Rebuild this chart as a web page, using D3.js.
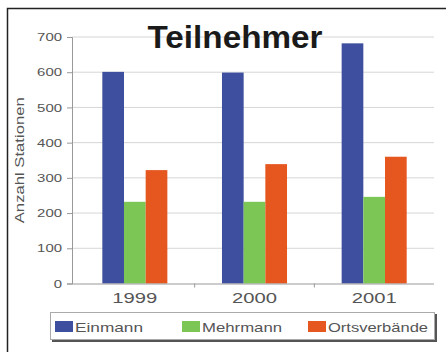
<!DOCTYPE html>
<html>
<head>
<meta charset="utf-8">
<script src="https://cdn.jsdelivr.net/npm/d3@7"></script>
<style>
  html, body { margin: 0; padding: 0; background: #fff; overflow: hidden; }
  svg { display: block; font-family: "Liberation Sans", Arial, sans-serif; }
</style>
</head>
<body>
<svg id="chart" width="446" height="352"></svg>
<script>
// Participants per year, by station type
const years = ["1999", "2000", "2001"];
const seriesNames = ["Einmann", "Mehrmann", "Ortsverbände"];
const einmann = [601, 599, 682];
const mehrmann = [232, 232, 246];
const ortsverbaende = [322, 339, 360];
const seriesColors = ["#3f4f9f", "#7cc656", "#e6561f"];
const yTicks = [0, 100, 200, 300, 400, 500, 600, 700];

const values = [einmann, mehrmann, ortsverbaende];
const rows = years.map((yr, i) => ({
  year: yr,
  bars: seriesNames.map((s, j) => ({ series: s, value: values[j][i], color: seriesColors[j] }))
}));

const svg = d3.select("#chart");

// widen text to a given run length (the chart's typeface is broad)
function stretch(sel, lenFn) {
  sel.each(function (d, i) {
    d3.select(this)
      .attr("textLength", typeof lenFn === "function" ? lenFn(d, i) : lenFn)
      .attr("lengthAdjust", "spacingAndGlyphs");
  });
}

// outer frame: only the top and left edges fall inside the view
svg.append("path")
  .attr("d", "M7.5,352V8.5H446")
  .attr("fill", "none").attr("stroke", "#222").attr("stroke-width", 1.5);

const plot = { left: 72, right: 434, top: 37, bottom: 283.5 };

const y = d3.scaleLinear().domain([0, 700]).range([plot.bottom, plot.top]);
const x0 = d3.scaleBand().domain(years).range([plot.left + 3, plot.right]).padding(0);
const x1 = d3.scaleBand().domain(seriesNames).range([0, x0.bandwidth()])
  .paddingInner(0).paddingOuter(1.26);

// gridlines
svg.append("g")
  .selectAll("line")
  .data(yTicks.filter(d => d > 0))
  .join("line")
  .attr("x1", plot.left).attr("x2", plot.right)
  .attr("y1", d => y(d)).attr("y2", d => y(d))
  .attr("stroke", "#d6d6d6").attr("stroke-width", 1);

// bars
const groups = svg.append("g")
  .selectAll("g")
  .data(rows)
  .join("g")
  .attr("transform", d => `translate(${x0(d.year)},0)`);

groups.selectAll("rect")
  .data(d => d.bars)
  .join("rect")
  .attr("x", d => x1(d.series))
  .attr("width", x1.bandwidth())
  .attr("y", d => y(d.value))
  .attr("height", d => y(0) - y(d.value))
  .attr("fill", d => d.color);

// y axis
const yAxis = d3.axisLeft(y).tickValues(yTicks).tickSize(5).tickPadding(5);
const gy = svg.append("g")
  .attr("transform", `translate(${plot.left},0)`)
  .call(yAxis);
gy.select(".domain").attr("stroke", "#999");
gy.selectAll(".tick line").attr("stroke", "#999");
gy.selectAll(".tick text")
  .attr("font-size", 11.5).attr("fill", "#555")
  .attr("font-family", "Liberation Sans, Arial, sans-serif")
  .call(stretch, d => String(d).length * 8.3);

// x axis
const xAxis = d3.axisBottom(x0).tickSize(0).tickPadding(9);
const gx = svg.append("g")
  .attr("transform", `translate(0,${plot.bottom})`)
  .call(xAxis);
gx.select(".domain").attr("stroke", "#999").attr("d", `M${plot.left},0.5H${plot.right}`);
gx.selectAll(".tick text")
  .attr("font-size", 14.5).attr("fill", "#555")
  .attr("font-family", "Liberation Sans, Arial, sans-serif")
  .call(stretch, 45);
// separators between categories
gx.append("g")
  .selectAll("line")
  .data(years.slice(1))
  .join("line")
  .attr("x1", d => x0(d)).attr("x2", d => x0(d))
  .attr("y1", 0).attr("y2", 4)
  .attr("stroke", "#999");

// title
svg.append("text")
  .attr("x", 235).attr("y", 48)
  .attr("text-anchor", "middle")
  .attr("font-size", 32).attr("font-weight", "bold")
  .attr("fill", "#1a1a1a")
  .call(stretch, 175)
  .text("Teilnehmer");

// y axis title
svg.append("text")
  .attr("transform", `translate(24,${(plot.top + plot.bottom) / 2}) rotate(-90)`)
  .attr("text-anchor", "middle")
  .attr("font-size", 12.5).attr("fill", "#555")
  .call(stretch, 126)
  .text("Anzahl Stationen");

// legend
const legend = svg.append("g");
legend.append("rect")
  .attr("x", 52).attr("y", 314).attr("width", 385).attr("height", 28)
  .attr("fill", "#555");
legend.append("rect")
  .attr("x", 50.5).attr("y", 312.5).attr("width", 384).attr("height", 27)
  .attr("fill", "#fff").attr("stroke", "#aaa");

const legendX = [55, 182, 308];
const legendTextLen = [68, 80, 100];
const items = legend.selectAll("g.item")
  .data(seriesNames)
  .join("g")
  .attr("class", "item")
  .attr("transform", (d, i) => `translate(${legendX[i]},321)`);
items.append("rect")
  .attr("width", 18).attr("height", 11)
  .attr("fill", (d, i) => seriesColors[i]);
items.append("text")
  .attr("x", 20).attr("y", 11)
  .attr("font-size", 13).attr("fill", "#555")
  .call(stretch, (d, i) => legendTextLen[i])
  .text(d => d);
</script>
</body>
</html>
